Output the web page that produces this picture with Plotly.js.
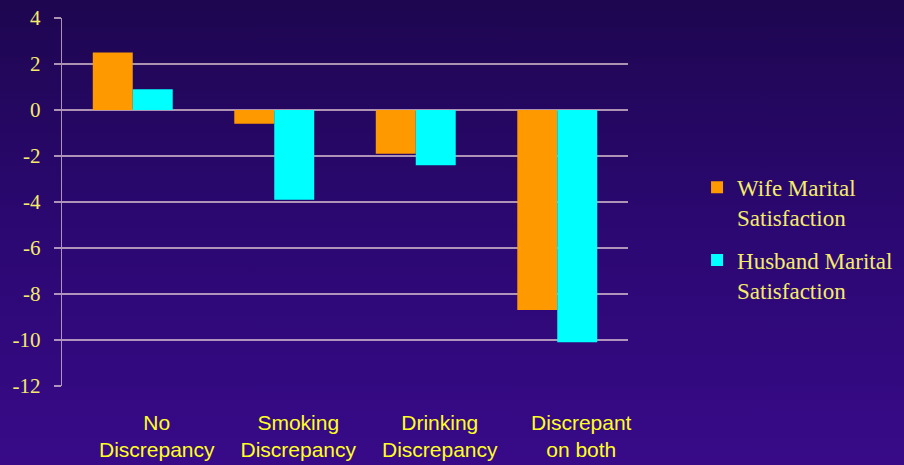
<!DOCTYPE html>
<html>
<head>
<meta charset="utf-8">
<script src="https://cdn.plot.ly/plotly-3.0.1.min.js"></script>
<style>
html,body{margin:0;padding:0;width:904px;height:465px;overflow:hidden;}
body{background:linear-gradient(to bottom,#1e0650 0%,#2b0872 50%,#380a88 100%);}
#chart{width:904px;height:465px;}
</style>
</head>
<body>
<div id="chart"></div>
<script>
const categories = ["No<br>Discrepancy", "Smoking<br>Discrepancy", "Drinking<br>Discrepancy", "Discrepant<br>on both"];
const seriesNames = ["Wife Marital<br>Satisfaction", "Husband Marital<br>Satisfaction"];
const wifeValues = [2.5, -0.6, -1.9, -8.7];
const husbandValues = [0.9, -3.9, -2.4, -10.1];
const yTickValues = [4, 2, 0, -2, -4, -6, -8, -10, -12];
const yTickLabels = ["4", "2", "0", "-2", "-4", "-6", "-8", "-10", "-12"];

const gridCol = 'rgba(220,195,210,0.75)';
const yellow = '#FFFF22';
const paleYellow = '#F4EC6A';

const traces = [
  {type:'bar', x:categories, y:wifeValues, name:seriesNames[0], legendgroup:'a',
   marker:{color:'#FF9900', line:{width:0}}},
  {type:'bar', x:categories, y:husbandValues, name:seriesNames[1], legendgroup:'b',
   marker:{color:'#00FFFF', line:{width:0}}}
];

const layout = {
  width:904, height:465,
  paper_bgcolor:'rgba(0,0,0,0)', plot_bgcolor:'rgba(0,0,0,0)',
  margin:{l:62, r:276, t:18, b:79, autoexpand:false},
  barmode:'group', bargap:0.435, bargroupgap:0,
  showlegend:true,
  legend:{x:1.122, xanchor:'left', y:0.4, yanchor:'middle',
    font:{family:'Liberation Serif, Times New Roman, serif', size:23, color:paleYellow},
    bgcolor:'rgba(0,0,0,0)', traceorder:'grouped', tracegroupgap:10, valign:'top'},
  xaxis:{type:'category', showgrid:false, zeroline:false, showline:false, ticks:'',
    tickfont:{family:'Liberation Sans, Arial, sans-serif', size:21, color:yellow},
    ticklabelstandoff:22, ticklabelshift:24},
  yaxis:{range:[-12,4], tickvals:yTickValues, ticktext:yTickLabels,
    showgrid:true, gridcolor:gridCol, gridwidth:1.3,
    zeroline:true, zerolinecolor:gridCol, zerolinewidth:1.3,
    showline:true, linecolor:gridCol, linewidth:1.3,
    ticks:'outside', ticklen:7, tickcolor:gridCol, tickwidth:1.3,
    tickfont:{family:'Liberation Serif, Times New Roman, serif', size:21, color:paleYellow},
    ticklabelstandoff:9}
};

Plotly.newPlot('chart', traces, layout, {displayModeBar:false, staticPlot:true});
</script>
</body>
</html>
